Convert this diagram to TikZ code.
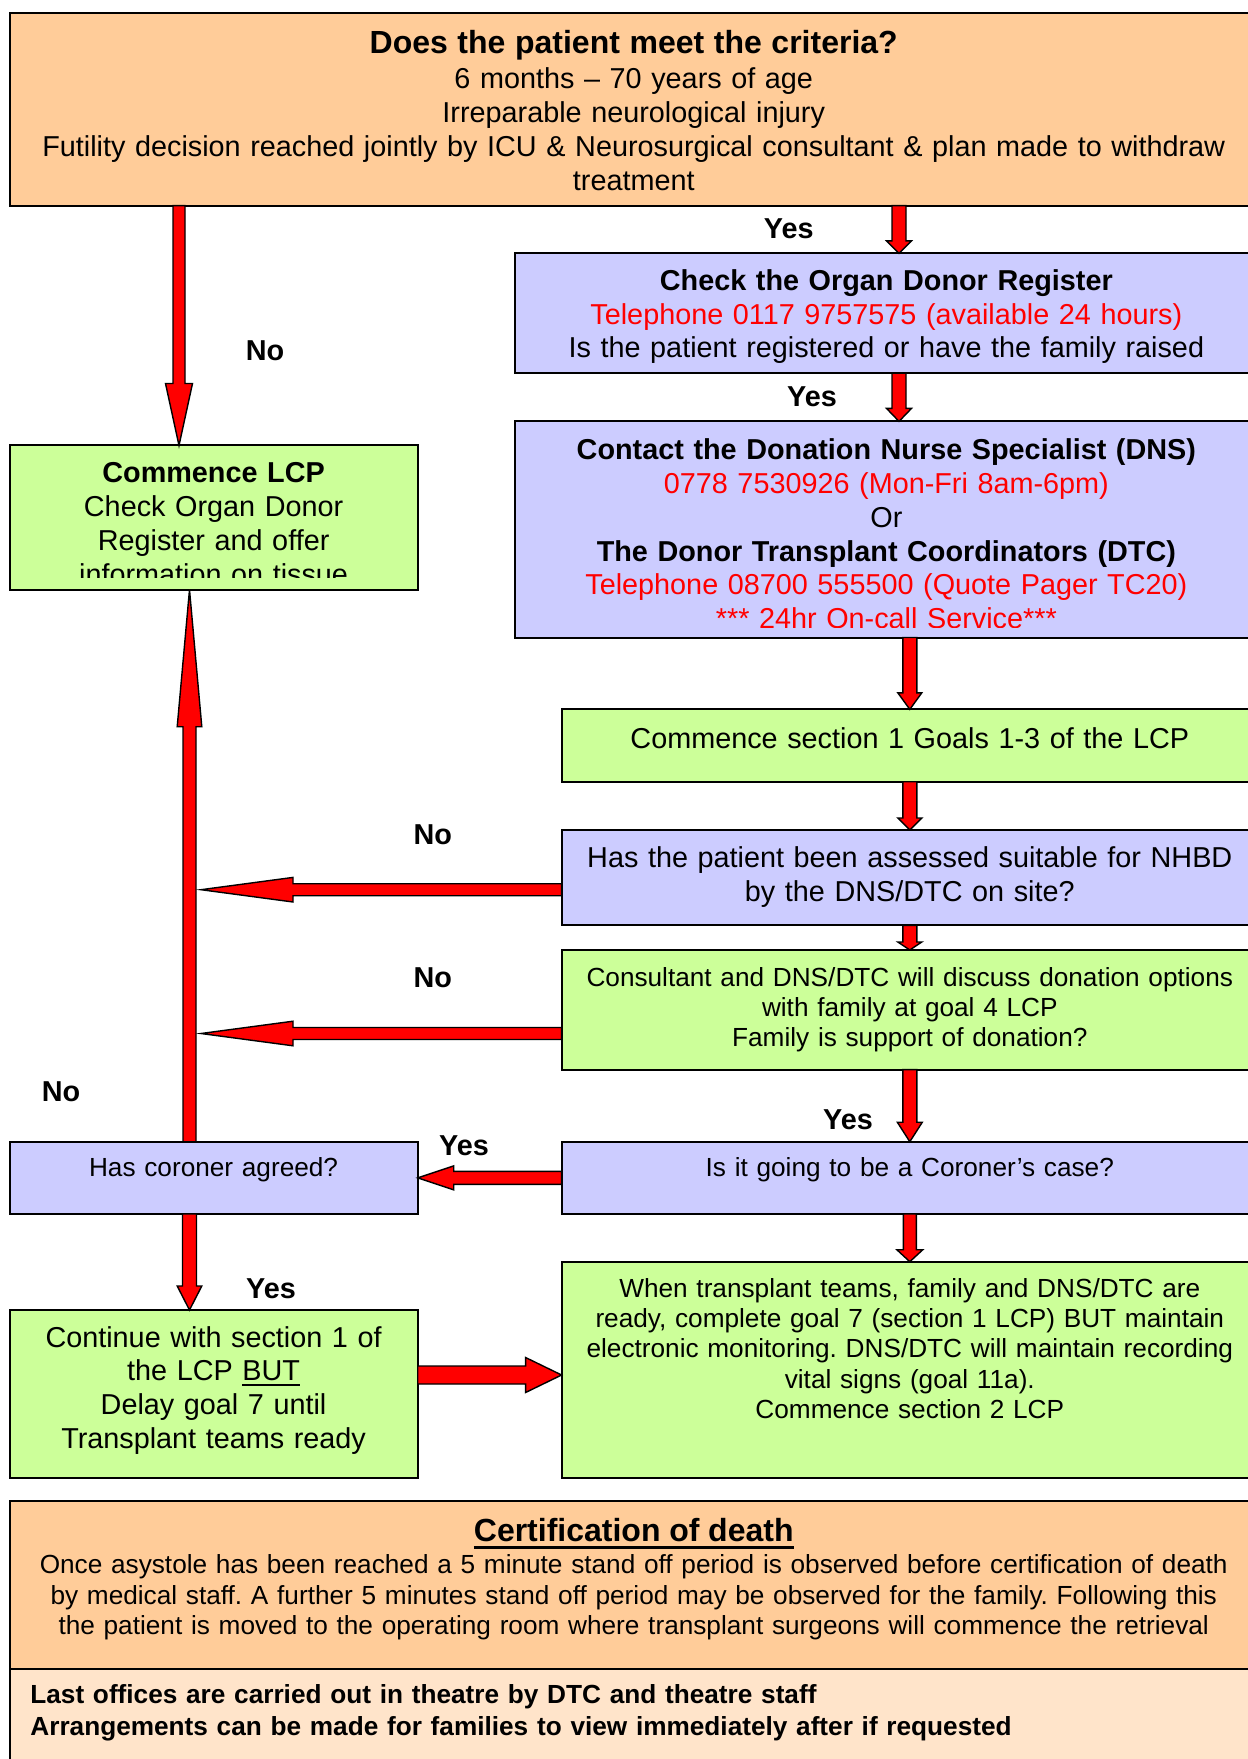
\documentclass[tikz,border=0pt]{standalone}
\usepackage{fontspec}
\setmainfont{Liberation Sans}
\usetikzlibrary{calc,positioning}
\definecolor{peach}{HTML}{FFCC99}
\definecolor{lilac}{HTML}{CCCCFF}
\definecolor{lime}{HTML}{CCFF99}
\definecolor{cream}{HTML}{FFE4CA}
\frenchspacing
\newcommand\bigtxt{\fontsize{14.4pt}{16.9pt}\selectfont}
\newcommand\smalltxt{\fontsize{13.1pt}{15.2pt}\selectfont}
\newcommand\headtxt{\fontsize{16pt}{19pt}\selectfont\bfseries}
\newcommand\ulbar[3]{\leavevmode\setbox0=\hbox{#1}\rlap{\rule[-#2]{\wd0}{#3}}\box0}
% block arrow: start, tip, half shaft, half head, head length
\newcommand\blockarr[5]{%
  \draw[blockarrow] ($(#1)!#3!90:(#2)$) -- ($(#2)!#5!(#1)!#3!-90:(#1)$)
    -- ($(#2)!#5!(#1)!#4!-90:(#1)$) -- (#2) -- ($(#2)!#5!(#1)!#4!90:(#1)$)
    -- ($(#2)!#5!(#1)!#3!90:(#1)$) -- ($(#1)!#3!-90:(#2)$) -- cycle;}

\begin{document}
\begin{tikzpicture}[x=0.5pt,y=-0.5pt,
  box/.style={draw=black,line width=1pt,inner sep=0pt,outer sep=0pt,anchor=north west},
  orangebox/.style={box,fill=peach},
  bluebox/.style={box,fill=lilac},
  greenbox/.style={box,fill=lime},
  bigtext/.style={inner sep=0pt,align=center,font=\bigtxt,execute at begin node=\strut},
  smalltext/.style={inner sep=0pt,align=center,font=\smalltxt,execute at begin node=\strut},
  lbl/.style={inner sep=0pt,anchor=base,font=\bigtxt\bfseries},
  blockarrow/.style={fill=red,draw=black,line width=0.7pt,line join=miter}]
\useasboundingbox (0,0) rectangle (1247,1759);

% boxes
\node[orangebox,minimum width=624.25pt,minimum height=96.2pt] (crit) at (9.5,13.3) {};
\node[bluebox,minimum width=371.65pt,minimum height=60pt] (odr) at (514.7,253.3) {};
\node[bluebox,minimum width=371.65pt,minimum height=108.05pt] (dns) at (514.7,421.4) {};
\node[greenbox,minimum width=204.1pt,minimum height=72.1pt] (lcp) at (9.5,445.5) {};
\node[greenbox,minimum width=348.2pt,minimum height=36.15pt] (sec1) at (561.6,709.4) {};
\node[bluebox,minimum width=348.2pt,minimum height=47.7pt] (nhbd) at (561.6,830) {};
\node[greenbox,minimum width=348.2pt,minimum height=59.8pt] (disc) at (561.6,950) {};
\node[bluebox,minimum width=348.2pt,minimum height=36.15pt] (case) at (561.6,1141.7) {};
\node[bluebox,minimum width=204.1pt,minimum height=36.15pt] (agree) at (case.north west -| lcp.west) {};
\node[greenbox,minimum width=204.1pt,minimum height=83.85pt] (cont) at (9.5,1310) {};
\node[greenbox,minimum width=348.2pt,minimum height=108pt] (when) at (561.6,1261.7) {};
\node[orangebox,minimum width=624.25pt,minimum height=84pt] (cert) at (9.5,1501) {};
\node[box,fill=cream,minimum width=624.25pt,minimum height=50.5pt] (last) at (cert.south west) {};

% texts
\node[bigtext,text width=615pt,below=8.15pt of crit.north] (critt)
  {{\headtxt Does the patient meet the criteria?}\\[0.6pt]
   6 months -- 70 years of age\\
   Irreparable neurological injury\\
   Futility decision reached jointly by ICU \& Neurosurgical consultant \& plan made to withdraw\\
   treatment};
\node[bigtext,text width=365pt,below=6.5pt of odr.north] (odrt)
  {\textbf{Check the Organ Donor Register}\\
   \textcolor{red}{Telephone 0117 9757575 (available 24 hours)}\\
   Is the patient registered or have the family raised};
\begin{scope}
\clip ([yshift=5pt]dns.south west) rectangle (dns.north east);
\node[bigtext,text width=365pt,below=7.15pt of dns.north] (dnst)
  {\textbf{Contact the Donation Nurse Specialist (DNS)}\\
   \textcolor{red}{0778 7530926 (Mon-Fri 8am-6pm)}\\
   Or\\
   \textbf{The Donor Transplant Coordinators (DTC)}\\
   \textcolor{red}{Telephone 08700 555500 (Quote Pager TC20)}\\
   \textcolor{red}{*** 24hr On-call Service***}};
\end{scope}
\begin{scope}
\clip ([yshift=6pt]lcp.south west) rectangle (lcp.north east);
\node[bigtext,text width=198pt,below=6.7pt of lcp.north] (lcpt)
  {\textbf{Commence LCP}\\
   Check Organ Donor\\
   Register and offer\\
   information on tissue};
\end{scope}
\node[bigtext,text width=340pt,below=7.55pt of sec1.north] (sec1t)
  {Commence section 1 Goals 1-3 of the LCP};
\node[bigtext,text width=340pt,below=6.85pt of nhbd.north] (nhbdt)
  {Has the patient been assessed suitable for NHBD\\ by the DNS/DTC on site?};
\node[smalltext,text width=340pt,below=7.2pt of disc.north] (disct)
  {Consultant and DNS/DTC will discuss donation options\\
   with family at goal 4 LCP\\
   Family is support of donation?};
\node[smalltext,text width=340pt,below=6.5pt of case.north] (caset)
  {Is it going to be a Coroner’s case?};
\node[smalltext,text width=198pt,below=6.5pt of agree.north] (agreet)
  {Has coroner agreed?};
\node[bigtext,text width=198pt,below=6.5pt of cont.north] (contt)
  {Continue with section 1 of\\
   the LCP \ulbar{BUT}{2.7pt}{1pt}\\
   Delay goal 7 until\\
   Transplant teams ready};
\node[smalltext,text width=340pt,below=6.85pt of when.north] (whent)
  {When transplant teams, family and DNS/DTC are\\
   ready, complete goal 7 (section 1 LCP) BUT maintain\\
   electronic monitoring. DNS/DTC will maintain recording\\
   vital signs (goal 11a).\\
   Commence section 2 LCP};
\node[smalltext,text width=615pt,below=6.7pt of cert.north] (certt)
  {{\headtxt\rule{0pt}{13.3pt}\ulbar{Certification of death}{3.75pt}{1.25pt}}\\[1pt]
   Once asystole has been reached a 5 minute stand off period is observed before certification of death\\
   by medical staff. A further 5 minutes stand off period may be observed for the family. Following this\\
   the patient is moved to the operating room where transplant surgeons will commence the retrieval};
\node[inner sep=0pt,align=left,text width=600pt,font=\fontsize{13.1pt}{15.85pt}\selectfont\bfseries,
  execute at begin node=\strut,below right=6.05pt and 10.25pt of last.north west] (lastt)
  {Last offices are carried out in theatre by DTC and theatre staff\\
   Arrangements can be made for families to view immediately after if requested};

% labels
\node[lbl] (yes1) at (788.8,238.3) {Yes};
\node[lbl] (no1) at (265,360.7) {No};
\node[lbl] (yes2) at (812,406.7) {Yes};
\node[lbl] (no2) at (432.7,844) {No};
\node[lbl] (no3) at (432.7,987.5) {No};
\node[lbl] (no4) at (61,1101) {No};
\node[lbl,fill=white,inner xsep=12pt,inner ysep=4pt] (yes3) at (848,1129) {Yes};
\node[lbl] (yes4) at (464,1155) {Yes};
\node[lbl] (yes5) at (271,1298) {Yes};

% arrows
\coordinate (rail) at (899,0);
\coordinate (lrail) at (179,0);
\coordinate (urail) at (189.5,0);
\coordinate (noA) at (201,889.7);
\coordinate (noB) at (201,1033.5);
\coordinate (brail) at (0,1375);
\blockarr{crit.south -| rail}{odr.north -| rail}{3.5pt}{6.25pt}{6.2pt}
\blockarr{odr.south -| rail}{dns.north -| rail}{3.5pt}{6.25pt}{6.5pt}
\blockarr{crit.south -| lrail}{lcp.north -| lrail}{3pt}{6.75pt}{31pt}
\blockarr{dns.south -| sec1.north}{sec1.north}{3.5pt}{6pt}{8.3pt}
\blockarr{sec1.south}{nhbd.north}{3.5pt}{6pt}{6pt}
\blockarr{nhbd.south}{disc.north}{3.5pt}{6pt}{4pt}
\blockarr{nhbd.west |- noA}{noA}{3pt}{6.15pt}{46pt}
\blockarr{disc.west |- noB}{noB}{3pt}{6.15pt}{46pt}
\blockarr{disc.south}{case.north}{3.5pt}{6.25pt}{9.75pt}
\blockarr{case.west}{agree.east}{3.25pt}{6pt}{18pt}
\blockarr{agree.north -| urail}{lcp.south -| urail}{3.25pt}{6.15pt}{68.5pt}
\blockarr{agree.south -| urail}{cont.north -| urail}{3.5pt}{6.15pt}{12pt}
\blockarr{case.south}{when.north}{3.25pt}{6.5pt}{6pt}
\blockarr{cont.east |- brail}{when.west |- brail}{4.5pt}{8.75pt}{18pt}
\end{tikzpicture}
\end{document}
